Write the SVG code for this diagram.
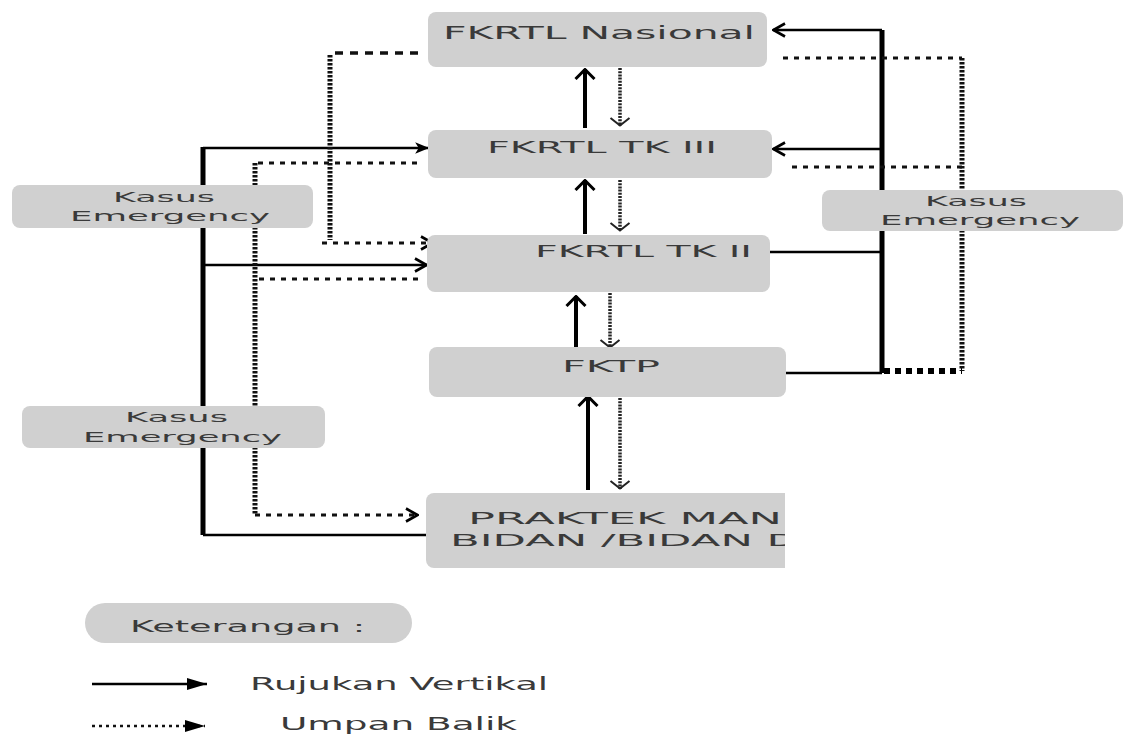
<svg xmlns="http://www.w3.org/2000/svg" width="1127" height="736" viewBox="0 0 1127 736">
<defs>
<style>
.box{fill:#d0d0d0;}
.t{font-family:"DejaVu Sans","Liberation Sans",sans-serif;fill:#3a3a3a;}
.solid{stroke:#000;stroke-width:2.5;fill:none;}
.thick{stroke:#000;stroke-width:5;fill:none;}
.vsolid{stroke:#000;stroke-width:4;fill:none;}
.dash{stroke:#111;stroke-width:3;stroke-dasharray:5 6;fill:none;}
.dashbig{stroke:#111;stroke-width:3.5;stroke-dasharray:8 7;fill:none;}
.ladder{stroke:#111;stroke-width:5;stroke-dasharray:2.5 1.5;fill:none;}
.vladder{stroke:#222;stroke-width:3.5;stroke-dasharray:2 1.2;fill:none;}
.squares{stroke:#000;stroke-width:6;stroke-dasharray:6 5;fill:none;}
</style>
<marker id="aFill" viewBox="0 0 12 12" refX="11" refY="6" markerWidth="18" markerHeight="14" markerUnits="userSpaceOnUse" orient="auto">
<path d="M0,1 L12,6 L0,11 L3,6 z" fill="#000"/>
</marker>
<marker id="aOpen" viewBox="0 0 14 16" refX="13" refY="8" markerWidth="14" markerHeight="16" markerUnits="userSpaceOnUse" orient="auto">
<path d="M1,1.5 L12.5,8 L1,14.5" fill="none" stroke="#000" stroke-width="2.6"/>
</marker>
<marker id="aUp" viewBox="0 0 12 22" refX="11" refY="11" markerWidth="12" markerHeight="22" markerUnits="userSpaceOnUse" orient="auto">
<path d="M1,1.5 L10.5,11 L1,20.5" fill="none" stroke="#000" stroke-width="3"/>
</marker>
<marker id="aDown" viewBox="0 0 10 22" refX="9" refY="11" markerWidth="10" markerHeight="22" markerUnits="userSpaceOnUse" orient="auto">
<path d="M1,1.5 L8.5,11 L1,20.5" fill="none" stroke="#222" stroke-width="2"/>
</marker>
<marker id="aLeg" viewBox="0 0 20 12" refX="20" refY="6" markerWidth="20" markerHeight="12" markerUnits="userSpaceOnUse" orient="auto">
<path d="M0,0 L20,6 L0,12 z" fill="#000"/>
</marker>
<clipPath id="cut"><rect x="0" y="0" width="785" height="736"/></clipPath>
</defs>
<rect width="1127" height="736" fill="#fff"/>

<g id="connectors">
<!-- left solid -->
<path class="thick" d="M203,147 V535"/>
<path class="solid" d="M203,148 H428" marker-end="url(#aFill)"/>
<path class="solid" d="M203,265 H427" marker-end="url(#aOpen)"/>
<path class="solid" d="M203,535 H426"/>
<!-- left feedback from TK III / TK II to praktek -->
<path class="dash" d="M417,163 H255"/>
<path class="dash" d="M418,279 H255"/>
<path class="ladder" d="M255,163 V515"/>
<path class="dash" d="M255,515 H418" marker-end="url(#aOpen)"/>
<!-- feedback from Nasional to TK II -->
<path class="dashbig" d="M418,53 H330"/>
<path class="ladder" d="M330,55 V240"/>
<path class="dash" d="M322,243 H433" marker-end="url(#aOpen)"/>
<!-- right solid -->
<path class="thick" d="M882,30 V373"/>
<path class="solid" d="M882,30 H773" marker-end="url(#aOpen)"/>
<path class="solid" d="M882,149 H773" marker-end="url(#aOpen)"/>
<path class="solid" d="M770,252 H882"/>
<path class="solid" d="M777,373 H882"/>
<path class="squares" d="M884,371 H962"/>
<!-- right feedback -->
<path class="dash" d="M783,58 H962"/>
<path class="dash" d="M792,167 H962"/>
<path class="ladder" d="M962,58 V371"/>
<!-- central verticals -->
<path class="vsolid" d="M585,128 V69" marker-end="url(#aUp)"/>
<path class="vladder" d="M620,68 V126" marker-end="url(#aDown)"/>
<path class="vsolid" d="M585,234 V180" marker-end="url(#aUp)"/>
<path class="vladder" d="M620,180 V231" marker-end="url(#aDown)"/>
<path class="vsolid" d="M576,347 V296" marker-end="url(#aUp)"/>
<path class="vladder" d="M610,293 V348" marker-end="url(#aDown)"/>
<path class="vsolid" d="M588,490 V396" marker-end="url(#aUp)"/>
<path class="vladder" d="M620,398 V489" marker-end="url(#aDown)"/>
</g>

<g id="nasional">
<rect class="box" x="428" y="12" width="339" height="55" rx="8"/>
<text class="t" x="443" y="39" font-size="18" textLength="312" lengthAdjust="spacingAndGlyphs">FKRTL Nasional</text>
</g>
<g id="tk3">
<rect class="box" x="428" y="130" width="344" height="48" rx="8"/>
<text class="t" x="487" y="153" font-size="16" textLength="230" lengthAdjust="spacingAndGlyphs">FKRTL TK III</text>
</g>
<g id="tk2">
<rect class="box" x="427" y="235" width="343" height="57" rx="8"/>
<text class="t" x="535" y="257" font-size="16" textLength="217" lengthAdjust="spacingAndGlyphs">FKRTL TK II</text>
</g>
<g id="fktp">
<rect class="box" x="429" y="347" width="357" height="50" rx="8"/>
<text class="t" x="562" y="372" font-size="16" textLength="98" lengthAdjust="spacingAndGlyphs">FKTP</text>
</g>
<g id="praktek" clip-path="url(#cut)">
<rect class="box" x="426" y="493" width="380" height="75" rx="8"/>
<text class="t" x="468" y="524" font-size="16" textLength="314" lengthAdjust="spacingAndGlyphs">PRAKTEK  MAN</text>
<text class="t" x="450" y="546" font-size="16" textLength="350" lengthAdjust="spacingAndGlyphs">BIDAN /BIDAN D</text>
</g>
<g id="kasus-left-top">
<rect class="box" x="12" y="185" width="301" height="43" rx="8"/>
<text class="t" x="113" y="202" font-size="14" textLength="102" lengthAdjust="spacingAndGlyphs">Kasus</text>
<text class="t" x="70" y="221" font-size="14" textLength="200" lengthAdjust="spacingAndGlyphs">Emergency</text>
</g>
<g id="kasus-left-bottom">
<rect class="box" x="22" y="406" width="303" height="42" rx="8"/>
<text class="t" x="125" y="422" font-size="14" textLength="103" lengthAdjust="spacingAndGlyphs">Kasus</text>
<text class="t" x="83" y="442" font-size="14" textLength="199" lengthAdjust="spacingAndGlyphs">Emergency</text>
</g>
<g id="kasus-right">
<rect class="box" x="822" y="190" width="301" height="41" rx="8"/>
<text class="t" x="925" y="206" font-size="14" textLength="102" lengthAdjust="spacingAndGlyphs">Kasus</text>
<text class="t" x="880" y="225" font-size="14" textLength="200" lengthAdjust="spacingAndGlyphs">Emergency</text>
</g>

<g id="legend">
<rect class="box" x="85" y="603" width="327" height="40" rx="20"/>
<text class="t" x="130" y="632" font-size="16" textLength="235" lengthAdjust="spacingAndGlyphs">Keterangan :</text>
<path class="solid" d="M92,684 H207" marker-end="url(#aLeg)"/>
<text class="t" x="250" y="690" font-size="17" textLength="298" lengthAdjust="spacingAndGlyphs">Rujukan Vertikal</text>
<path d="M92,726 H205" stroke="#111" stroke-width="2.5" stroke-dasharray="3 4" fill="none" marker-end="url(#aLeg)"/>
<text class="t" x="280" y="730" font-size="17" textLength="237" lengthAdjust="spacingAndGlyphs">Umpan Balik</text>
</g>
</svg>
